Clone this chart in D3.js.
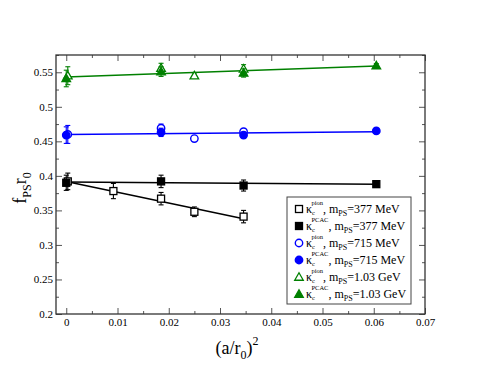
<!DOCTYPE html>
<html><head><meta charset="utf-8">
<script src="https://cdn.jsdelivr.net/npm/d3@7"></script>
<style>body{margin:0;background:#fff;} svg{display:block;font-family:"Liberation Serif","Times New Roman",serif;}</style>
</head><body><svg id="c" width="479" height="370"></svg>
<script>
// ---- data ----
const xDomain = [-0.002, 0.07];
const yDomain = [0.2, 0.575];
const xTicks = [0, 0.01, 0.02, 0.03, 0.04, 0.05, 0.06, 0.07];
const xTickLabels = ["0", "0.01", "0.02", "0.03", "0.04", "0.05", "0.06", "0.07"];
const yTicks = [0.2, 0.25, 0.3, 0.35, 0.4, 0.45, 0.5, 0.55];
const yTickLabels = ["0.2", "0.25", "0.3", "0.35", "0.4", "0.45", "0.5", "0.55"];

// kappa_c^pion, m_PS = 377 MeV (open squares)
const xPion377 = [0.0003, 0.0092, 0.0185, 0.025, 0.0346];
const yPion377 = [0.392, 0.378, 0.367, 0.348, 0.341];
const ePion377 = [0.012, 0.011, 0.009, 0.007, 0.009];
// kappa_c^PCAC, m_PS = 377 MeV (filled squares)
const xPcac377 = [0.0, 0.0185, 0.0346, 0.0605];
const yPcac377 = [0.390, 0.392, 0.386, 0.388];
const ePcac377 = [0.011, 0.009, 0.008, 0.004];
// 715 MeV
const xPion715 = [0.0003, 0.0185, 0.025, 0.0346];
const yPion715 = [0.460, 0.469, 0.454, 0.464];
const ePion715 = [0.013, 0.006, 0.0, 0.004];
const xPcac715 = [0.0, 0.0185, 0.0346, 0.0605];
const yPcac715 = [0.459, 0.463, 0.459, 0.465];
const ePcac715 = [0.012, 0.006, 0.004, 0.003];
// 1.03 GeV
const xPion103 = [0.0003, 0.0185, 0.025, 0.0346];
const yPion103 = [0.545, 0.556, 0.545, 0.555];
const ePion103 = [0.013, 0.007, 0.004, 0.006];
const xPcac103 = [0.0, 0.0185, 0.0346, 0.0605];
const yPcac103 = [0.541, 0.551, 0.549, 0.5595];
const ePcac103 = [0.012, 0.007, 0.006, 0.003];

// fit lines
const fitPion377X = [0, 0.0346], fitPion377Y = [0.392, 0.338];
const fitPcac377X = [0, 0.0605], fitPcac377Y = [0.391, 0.388];
const fit715X = [0, 0.0605], fit715Y = [0.460, 0.464];
const fit103X = [0, 0.0605], fit103Y = [0.543, 0.559];

const legendMass = ["377 MeV", "377 MeV", "715 MeV", "715 MeV", "1.03 GeV", "1.03 GeV"];
const legendKappa = ["pion", "PCAC", "pion", "PCAC", "pion", "PCAC"];

// ---- drawing ----
const m = {l: 56, t: 55, r: 425, b: 314};
const svg = d3.select("#c");
const x = d3.scaleLinear().domain(xDomain).range([m.l, m.r]);
const y = d3.scaleLinear().domain(yDomain).range([m.b, m.t]);

const series = [
  {x: xPion377, y: yPion377, e: ePion377, color: "#000", shape: "square", fill: false},
  {x: xPcac377, y: yPcac377, e: ePcac377, color: "#000", shape: "square", fill: true},
  {x: xPion715, y: yPion715, e: ePion715, color: "#0000ff", shape: "circle", fill: false},
  {x: xPcac715, y: yPcac715, e: ePcac715, color: "#0000ff", shape: "circle", fill: true},
  {x: xPion103, y: yPion103, e: ePion103, color: "#008000", shape: "triangle", fill: false},
  {x: xPcac103, y: yPcac103, e: ePcac103, color: "#008000", shape: "triangle", fill: true},
];
const fits = [
  {x: fitPion377X, y: fitPion377Y, color: "#000"},
  {x: fitPcac377X, y: fitPcac377Y, color: "#000"},
  {x: fit715X, y: fit715Y, color: "#0000ff"},
  {x: fit103X, y: fit103Y, color: "#008000"},
];

const xMinor = d3.range(0, 0.0701, 0.005);
const yMinor = d3.range(0.2, 0.5751, 0.025);

function addAxis(axisGen, transform) {
  const g = svg.append("g").attr("transform", transform).call(axisGen);
  g.select(".domain").remove();
  g.selectAll("line").attr("stroke", "#555").attr("stroke-width", 1);
  return g;
}
const xMin = xMinor.filter(v => Math.abs(Math.round(v*100)-v*100) > 1e-6);
addAxis(d3.axisTop(x).tickValues(xMin).tickSize(3).tickFormat(""), `translate(0,${m.b})`);
addAxis(d3.axisTop(x).tickValues(xTicks).tickSize(6).tickFormat(""), `translate(0,${m.b})`);
addAxis(d3.axisBottom(x).tickValues(xMin).tickSize(3).tickFormat(""), `translate(0,${m.t})`);
addAxis(d3.axisBottom(x).tickValues(xTicks).tickSize(6).tickFormat(""), `translate(0,${m.t})`);
const xl = svg.append("g").attr("transform", `translate(0,${m.b})`)
  .call(d3.axisBottom(x).tickValues(xTicks).tickSize(0).tickPadding(4).tickFormat((d, i) => xTickLabels[i]));
xl.select(".domain").remove();
xl.selectAll("text").attr("font-family", "Liberation Serif").attr("font-size", 11).attr("fill", "#000");

const yMin = yMinor.filter(v => Math.abs(Math.round(v*20)-v*20) > 1e-6);
addAxis(d3.axisRight(y).tickValues(yMin).tickSize(3).tickFormat(""), `translate(${m.l},0)`);
addAxis(d3.axisRight(y).tickValues(yTicks).tickSize(6).tickFormat(""), `translate(${m.l},0)`);
addAxis(d3.axisLeft(y).tickValues(yMin).tickSize(3).tickFormat(""), `translate(${m.r},0)`);
addAxis(d3.axisLeft(y).tickValues(yTicks).tickSize(6).tickFormat(""), `translate(${m.r},0)`);
const yl = svg.append("g").attr("transform", `translate(${m.l},0)`)
  .call(d3.axisLeft(y).tickValues(yTicks).tickSize(0).tickPadding(3).tickFormat((d, i) => yTickLabels[i]));
yl.select(".domain").remove();
yl.selectAll("text").attr("font-family", "Liberation Serif").attr("font-size", 11).attr("fill", "#000");

// frame
svg.append("rect").attr("x", m.l).attr("y", m.t).attr("width", m.r - m.l).attr("height", m.b - m.t)
  .attr("fill", "none").attr("stroke", "#333").attr("stroke-width", 1.3);

// fit lines
const line = d3.line().x(d => x(d[0])).y(d => y(d[1]));
fits.forEach(f => {
  svg.append("path").attr("d", line(f.x.map((v, i) => [v, f.y[i]])))
    .attr("stroke", f.color).attr("stroke-width", 1.5).attr("fill", "none");
});

// symbols
function drawSymbol(g, shape, cx, cy, color, fill) {
  if (shape === "square") {
    g.append("rect").attr("x", cx - 3.5).attr("y", cy - 3.5).attr("width", 7).attr("height", 7)
      .attr("fill", fill ? color : "#fff").attr("stroke", color).attr("stroke-width", 1.3);
  } else if (shape === "circle") {
    g.append("circle").attr("cx", cx).attr("cy", cy).attr("r", 3.7)
      .attr("fill", fill ? color : "#fff").attr("stroke", color).attr("stroke-width", 1.4);
  } else {
    const s = 4.3;
    g.append("path").attr("d", `M${cx},${cy - s}L${cx + s},${cy + s * 0.75}L${cx - s},${cy + s * 0.75}Z`)
      .attr("fill", fill ? color : "#fff").attr("stroke", color).attr("stroke-width", 1.3);
  }
}
series.forEach(s => {
  const g = svg.append("g");
  s.x.forEach((xv, i) => {
    const cx = x(xv), cy = y(s.y[i]);
    if (s.e[i] > 0) {
      const y1 = y(s.y[i] + s.e[i]), y2 = y(s.y[i] - s.e[i]);
      g.append("line").attr("x1", cx).attr("x2", cx).attr("y1", y1).attr("y2", y2).attr("stroke", s.color).attr("stroke-width", 1.1);
      [y1, y2].forEach(yy => g.append("line").attr("x1", cx - 2.5).attr("x2", cx + 2.5).attr("y1", yy).attr("y2", yy).attr("stroke", s.color).attr("stroke-width", 1.1));
    }
    drawSymbol(g, s.shape, cx, cy, s.color, s.fill);
  });
});

// legend
const lg = svg.append("g");
lg.append("rect").attr("x", 287).attr("y", 197).attr("width", 124).attr("height", 107)
  .attr("fill", "#fff").attr("stroke", "#444").attr("stroke-width", 1);
series.forEach((s, i) => {
  const ry = 209 + i * 17;
  drawSymbol(lg, s.shape, 299, ry, s.color, s.fill);
  const t = lg.append("text").attr("x", 306).attr("y", ry + 4).attr("font-size", 12).attr("fill", "#000");
  t.append("tspan").text("κ");
  t.append("tspan").attr("font-size", 6.5).attr("dy", 2).text("c");
  t.append("tspan").attr("font-size", 6.5).attr("dx", -3.5).attr("dy", -10).text(legendKappa[i]);
  t.append("tspan").attr("dy", 8).text(", m");
  t.append("tspan").attr("font-size", 8).attr("dy", 3).text("PS");
  t.append("tspan").attr("dy", -3).text("=" + legendMass[i]);
});

// axis titles
const xt = svg.append("text").attr("x", 237).attr("y", 354).attr("text-anchor", "middle").attr("font-size", 18);
xt.append("tspan").text("(a/r");
xt.append("tspan").attr("font-size", 12).attr("dy", 5).text("0");
xt.append("tspan").attr("dy", -5).text(")");
xt.append("tspan").attr("font-size", 12).attr("dy", -9).text("2");

const yt = svg.append("text").attr("transform", "translate(26,188) rotate(-90)").attr("text-anchor", "middle").attr("font-size", 18);
yt.append("tspan").text("f");
yt.append("tspan").attr("font-size", 12).attr("dy", 5).text("PS");
yt.append("tspan").attr("dy", -5).text("r");
yt.append("tspan").attr("font-size", 12).attr("dy", 5).text("0");
</script></body></html>
